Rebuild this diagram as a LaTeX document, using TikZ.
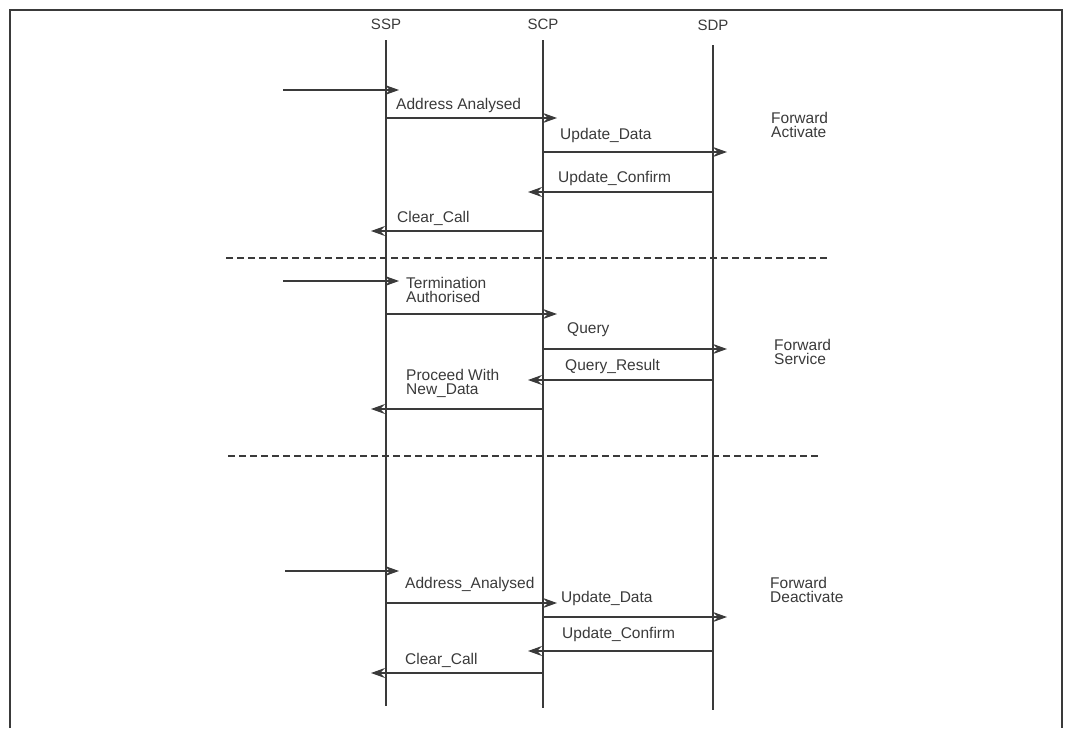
\documentclass[tikz,border=0pt]{standalone}
\usepackage{fontspec}
\setmainfont{Liberation Sans}
\usetikzlibrary{arrows.meta}
\definecolor{ink}{HTML}{3A3A3A}
\begin{document}
\begin{tikzpicture}[x=1pt,y=-1pt,
  line/.style={draw=ink,line width=1.2pt},
  msg/.style={draw=ink,line width=1.2pt,-{Stealth[length=14pt,width=10pt,inset=5pt]}},
  lbl/.style={font=\fontsize{15.5}{14}\selectfont,text=ink,inner sep=0pt,anchor=west,align=left},
  head/.style={font=\fontsize{15}{14}\selectfont,text=ink,inner sep=0pt},
  sep/.style={draw=ink,line width=1.2pt,dash pattern=on 7pt off 4pt}]
\useasboundingbox (0,0) rectangle (1065,728);
% frame
\draw[draw=ink,line width=1.6pt] (10,728) -- (10,10) -- (1062,10) -- (1062,728);
% lifelines
\node[head] (ssp) at (386,24) {SSP};
\node[head] (scp) at (543,24) {SCP};
\node[head] (sdp) at (713,25) {SDP};
\coordinate (sspB) at (386,706);
\coordinate (scpB) at (543,708);
\coordinate (sdpB) at (713,710);
\draw[line] (386,40) -- (sspB);
\draw[line] (543,40) -- (scpB);
\draw[line] (713,45) -- (sdpB);
% ---- block 1
\coordinate (a0s) at (283,90);  \coordinate (a0e) at (399,90);
\draw[msg] (a0s) -- (a0e);
\coordinate (a1s) at (386,118); \coordinate (a1e) at (557,118);
\draw[msg] (a1s) -- (a1e);
\node[lbl] (a1l) at (396,105) {Address Analysed};
\coordinate (a2s) at (543,152); \coordinate (a2e) at (727,152);
\draw[msg] (a2s) -- (a2e);
\node[lbl] (a2l) at (560,135) {Update\_Data};
\coordinate (a3s) at (713,192); \coordinate (a3e) at (528,192);
\draw[msg] (a3s) -- (a3e);
\node[lbl] (a3l) at (558,178) {Update\_Confirm};
\coordinate (a4s) at (543,231); \coordinate (a4e) at (371,231);
\draw[msg] (a4s) -- (a4e);
\node[lbl] (a4l) at (397,218) {Clear\_Call};
\node[lbl] (fa) at (771,125) {Forward\\Activate};
% separator
\coordinate (d1s) at (226,258); \coordinate (d1e) at (828,258);
\draw[sep] (d1s) -- (d1e);
% ---- block 2
\coordinate (b0s) at (283,281); \coordinate (b0e) at (399,281);
\draw[msg] (b0s) -- (b0e);
\node[lbl] (b1l) at (406,290) {Termination\\Authorised};
\coordinate (b1s) at (386,314); \coordinate (b1e) at (557,314);
\draw[msg] (b1s) -- (b1e);
\coordinate (b2s) at (543,349); \coordinate (b2e) at (727,349);
\draw[msg] (b2s) -- (b2e);
\node[lbl] (b2l) at (567,330) {Query};
\coordinate (b3s) at (713,380); \coordinate (b3e) at (528,380);
\draw[msg] (b3s) -- (b3e);
\node[lbl] (b3l) at (565,366) {Query\_Result};
\coordinate (b4s) at (543,409); \coordinate (b4e) at (371,409);
\draw[msg] (b4s) -- (b4e);
\node[lbl] (b4l) at (406,383) {Proceed With\\New\_Data};
\node[lbl] (fs) at (774,352) {Forward\\Service};
% separator
\coordinate (d2s) at (228,456); \coordinate (d2e) at (818,456);
\draw[sep] (d2s) -- (d2e);
% ---- block 3
\coordinate (c0s) at (285,571); \coordinate (c0e) at (399,571);
\draw[msg] (c0s) -- (c0e);
\coordinate (c1s) at (386,603); \coordinate (c1e) at (557,603);
\draw[msg] (c1s) -- (c1e);
\node[lbl] (c1l) at (405,584) {Address\_Analysed};
\coordinate (c2s) at (543,617); \coordinate (c2e) at (727,617);
\draw[msg] (c2s) -- (c2e);
\node[lbl] (c2l) at (561,598) {Update\_Data};
\coordinate (c3s) at (713,651); \coordinate (c3e) at (528,651);
\draw[msg] (c3s) -- (c3e);
\node[lbl] (c3l) at (562,634) {Update\_Confirm};
\coordinate (c4s) at (543,673); \coordinate (c4e) at (371,673);
\draw[msg] (c4s) -- (c4e);
\node[lbl] (c4l) at (405,660) {Clear\_Call};
\node[lbl] (fd) at (770,590) {Forward\\Deactivate};
\end{tikzpicture}
\end{document}
